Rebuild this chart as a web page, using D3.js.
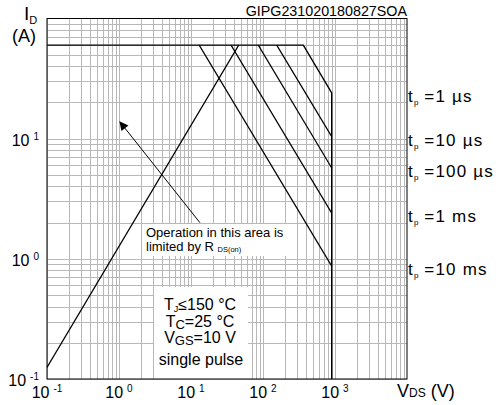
<!DOCTYPE html>
<html>
<head>
<meta charset="utf-8">
<script src="https://cdn.jsdelivr.net/npm/d3@7"></script>
<style>
  body { margin: 0; background: #fff; }
  text { font-family: "Liberation Sans", Arial, sans-serif; fill: #000; }
</style>
</head>
<body>
<script>
// axis ticks
const vTicks = [0.1, 1, 10, 100, 1000];
const vTickExp = ["-1", "0", "1", "2", "3"];
const iTicks = [0.1, 1, 10];
const iTickExp = ["-1", "0", "1"];

// SOA limits
const iMax = 60, vMax = 900, iMin = 0.1;
const tpLabels = ["1 µs", "10 µs", "100 µs", "1 ms", "10 ms"];
const tpStartV = [363, 155, 86, 36, 13];     // where each pulse line leaves the current limit
const tpEndI = [24, 10.4, 5.7, 2.4, 0.87];    // current where it meets V = vMax
const rdsV = [0.1, 46];
const rdsI = [0.125, 60];
const arrowV = [13.3, 1.03];
const arrowI = [2.0, 13.8];

const width = 500, height = 405;
const plot = {left: 47, right: 407, top: 18.5, bottom: 379};

const svg = d3.select("body").append("svg")
  .attr("width", width)
  .attr("height", height);

const x = d3.scaleLog().domain([0.1, 1e4]).range([plot.left, plot.right]);
const y = d3.scaleLog().domain([0.1, 100]).range([plot.bottom, plot.top]);

// grid: 1..9 in every decade
const gridV = [], gridI = [];
for (let d = -1; d <= 3; d++) for (let k = 1; k <= 9; k++) gridV.push(k * Math.pow(10, d));
for (let d = -1; d <= 1; d++) for (let k = 1; k <= 9; k++) gridI.push(k * Math.pow(10, d));

const grid = svg.append("g").attr("stroke", "#b8b8b8").attr("stroke-width", 1);
grid.selectAll(".gv").data(gridV).enter().append("line")
  .attr("x1", d => Math.round(x(d)) + 0.5).attr("x2", d => Math.round(x(d)) + 0.5)
  .attr("y1", plot.top).attr("y2", plot.bottom);
grid.selectAll(".gi").data(gridI).enter().append("line")
  .attr("y1", d => Math.round(y(d)) + 0.5).attr("y2", d => Math.round(y(d)) + 0.5)
  .attr("x1", plot.left).attr("x2", plot.right);

// white boxes for the notes
svg.append("rect").attr("x", 144).attr("y", 224).attr("width", 149).attr("height", 32).attr("fill", "#fff");
svg.append("rect").attr("x", 154).attr("y", 287).attr("width", 94).attr("height", 92).attr("fill", "#fff");

// frame
svg.append("rect")
  .attr("x", plot.left).attr("y", plot.top)
  .attr("width", plot.right - plot.left).attr("height", plot.bottom - plot.top)
  .attr("fill", "none").attr("stroke", "#000").attr("stroke-width", 1);

const line = d3.line().x(d => x(d[0])).y(d => y(d[1]));

// outer boundary: current limit, 1 µs line, voltage limit
const outline = [[0.1, iMax], [tpStartV[0], iMax], [vMax, tpEndI[0]], [vMax, iMin]];
svg.append("path").attr("d", line(outline))
  .attr("fill", "none").attr("stroke", "#000").attr("stroke-width", 1.4);

tpStartV.forEach((v, i) => {
  if (i === 0) return;
  svg.append("path").attr("d", line([[v, iMax], [vMax, tpEndI[i]]]))
    .attr("fill", "none").attr("stroke", "#000").attr("stroke-width", 1.2);
});

// RDS(on) line
svg.append("path").attr("d", line(rdsV.map((v, i) => [v, rdsI[i]])))
  .attr("fill", "none").attr("stroke", "#000").attr("stroke-width", 1.2);

// arrow
svg.append("defs").append("marker")
  .attr("id", "ah").attr("viewBox", "0 0 10 10")
  .attr("refX", 9).attr("refY", 5)
  .attr("markerWidth", 10).attr("markerHeight", 9)
  .attr("markerUnits", "userSpaceOnUse")
  .attr("orient", "auto")
  .append("path").attr("d", "M0,0L10,5L0,10z").attr("fill", "#000");
svg.append("line")
  .attr("x1", x(arrowV[0])).attr("y1", y(arrowI[0]))
  .attr("x2", x(arrowV[1])).attr("y2", y(arrowI[1]))
  .attr("stroke", "#000").attr("stroke-width", 1)
  .attr("marker-end", "url(#ah)");

// tick labels
const xl = svg.selectAll(".xl").data(vTicks).enter().append("text")
  .attr("x", d => x(d)).attr("y", 398)
  .attr("text-anchor", "middle").style("font-size", "16px");
xl.append("tspan").text("10");
xl.append("tspan").attr("dx", 4).attr("dy", -6).style("font-size", "10px").text((d, i) => vTickExp[i]);

const yl = svg.selectAll(".yl").data(iTicks).enter().append("text")
  .attr("x", 39).attr("y", d => y(d) + 7)
  .attr("text-anchor", "end").style("font-size", "16px");
yl.append("tspan").text("10");
yl.append("tspan").attr("dx", 4).attr("dy", -6).style("font-size", "10px").text((d, i) => iTickExp[i]);

// axis titles
const it = svg.append("text").attr("x", 24).attr("y", 20).style("font-size", "19px");
it.append("tspan").text("I");
it.append("tspan").attr("dy", 4).style("font-size", "11px").text("D");
svg.append("text").attr("x", 12).attr("y", 42).style("font-size", "18px").text("(A)");

const vt = svg.append("text").attr("x", 397).attr("y", 397).style("font-size", "18px");
vt.append("tspan").text("V");
vt.append("tspan").style("font-size", "12px").text("DS");
vt.append("tspan").text(" (V)");

svg.append("text").attr("x", plot.right).attr("y", 16)
  .attr("text-anchor", "end").style("font-size", "14.3px")
  .text("GIPG231020180827SOA");

// pulse labels
tpLabels.forEach((t, i) => {
  const lab = svg.append("text").attr("x", 408).attr("y", y(tpEndI[i]) + 9)
    .style("font-size", "17px").style("letter-spacing", "1.2px");
  lab.append("tspan").text("t");
  lab.append("tspan").attr("dy", 3).style("font-size", "8px").style("letter-spacing", "0px").text("p");
  lab.append("tspan").attr("dy", -3).text(" =" + t);
});

// notes
svg.append("text").attr("x", 146).attr("y", 237).style("font-size", "13px").text("Operation in this area is");
const l2 = svg.append("text").attr("x", 146).attr("y", 251).style("font-size", "13px");
l2.append("tspan").text("limited by R ");
l2.append("tspan").attr("dy", 1).style("font-size", "7.5px").text("DS(on)");

const cond = svg.append("g").attr("text-anchor", "middle").style("font-size", "16px");
const c1 = cond.append("text").attr("x", 200).attr("y", 310);
c1.append("tspan").text("T");
c1.append("tspan").attr("dy", 2).style("font-size", "9px").text("J");
c1.append("tspan").attr("dy", -2).text("≤150 °C");
const c2 = cond.append("text").attr("x", 200).attr("y", 327);
c2.append("tspan").text("T");
c2.append("tspan").attr("dy", 2).style("font-size", "13px").text("C");
c2.append("tspan").attr("dy", -2).text("=25 °C");
const c3 = cond.append("text").attr("x", 200).attr("y", 343);
c3.append("tspan").text("V");
c3.append("tspan").attr("dy", 2).style("font-size", "13px").text("GS");
c3.append("tspan").attr("dy", -2).text("=10 V");
cond.append("text").attr("x", 201).attr("y", 365).text("single pulse");
</script>
</body>
</html>
